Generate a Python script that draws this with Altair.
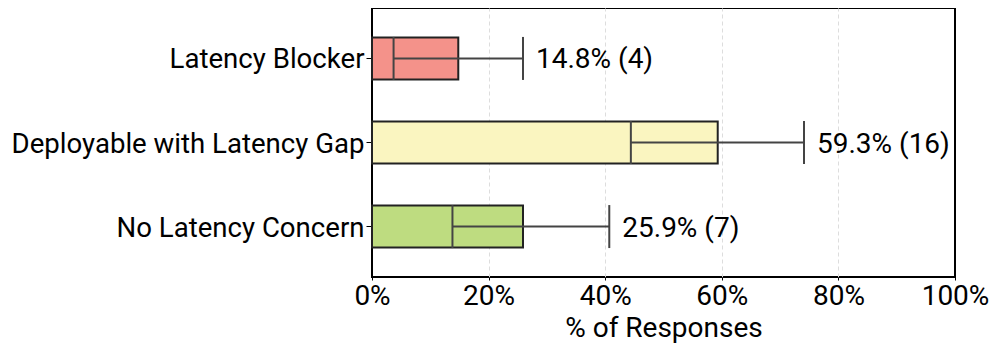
import altair as alt
import pandas as pd

categories = ["Latency Blocker", "Deployable with Latency Gap", "No Latency Concern"]
percent = [14.8, 59.3, 25.9]
counts = [4, 16, 7]
ci_low = [3.7, 44.4, 13.8]
ci_high = [25.9, 74.1, 40.7]
colors = ["#F4928A", "#FAF5C0", "#BEDC80"]

df = pd.DataFrame({
    "category": categories,
    "pct": percent,
    "lo": ci_low,
    "hi": ci_high,
    "label": [f"{p:.1f}% ({c})" for p, c in zip(percent, counts)],
})

FONT = "Roboto"
FS = 28
y_enc = alt.Y("category:N", sort=categories, title=None,
              scale=alt.Scale(paddingInner=0.5, paddingOuter=0.35),
              axis=alt.Axis(labelFontSize=27.6, labelColor="black", labelFont=FONT,
                            tickSize=6, tickColor="black", tickWidth=1, labelPadding=2,
                            labelLimit=1000, domain=False, grid=False, labelOffset=2))

x_scale = alt.Scale(domain=[0, 100], nice=False)
x_axis = alt.Axis(values=[0, 20, 40, 60, 80, 100], labelExpr="datum.value + '%'",
                  labelFontSize=FS, labelFont=FONT, labelColor="black",
                  title="% of Responses", titleFontSize=FS, titleFont=FONT,
                  titleFontWeight="normal", titleColor="black", titlePadding=4,
                  grid=True, gridDash=[4, 3], gridColor="#dddddd", gridWidth=1,
                  gridOpacity={"condition": {"test": "datum.value == 0 || datum.value == 100", "value": 0}, "value": 1},
                  tickSize=3, tickColor="black", domain=False, labelPadding=2,
                  labelFlush=False)

base = alt.Chart(df)

bars = base.mark_bar(stroke="#222222", strokeWidth=2).encode(
    x=alt.X("pct:Q", scale=x_scale, axis=x_axis),
    y=y_enc,
    color=alt.Color("category:N", scale=alt.Scale(domain=categories, range=colors), legend=None),
)

rule = base.mark_rule(color="#444444", strokeWidth=2, opacity=1).encode(
    x="lo:Q", x2="hi:Q", y=alt.Y("category:N", sort=categories)
)

caps_lo = base.mark_tick(color="#444444", thickness=2, size=43, orient="vertical", opacity=1).encode(
    x="lo:Q", y=alt.Y("category:N", sort=categories)
)
caps_hi = base.mark_tick(color="#444444", thickness=2, size=43, orient="vertical", opacity=1).encode(
    x="hi:Q", y=alt.Y("category:N", sort=categories)
)

text = base.mark_text(align="left", baseline="middle", dx=13, dy=2, fontSize=FS, font=FONT, color="black").encode(
    x="hi:Q", y=alt.Y("category:N", sort=categories), text="label:N"
)

chart = alt.layer(bars, rule, caps_lo, caps_hi, text).properties(
    width=583, height=269,
    autosize=alt.AutoSizeParams(type="none"),
    padding={"left": 364, "top": 0, "right": 34, "bottom": 66},
).configure(background="white").configure_view(stroke="black", strokeWidth=2)

chart.save("out.html", embed_options={"renderer": "svg", "actions": False})
